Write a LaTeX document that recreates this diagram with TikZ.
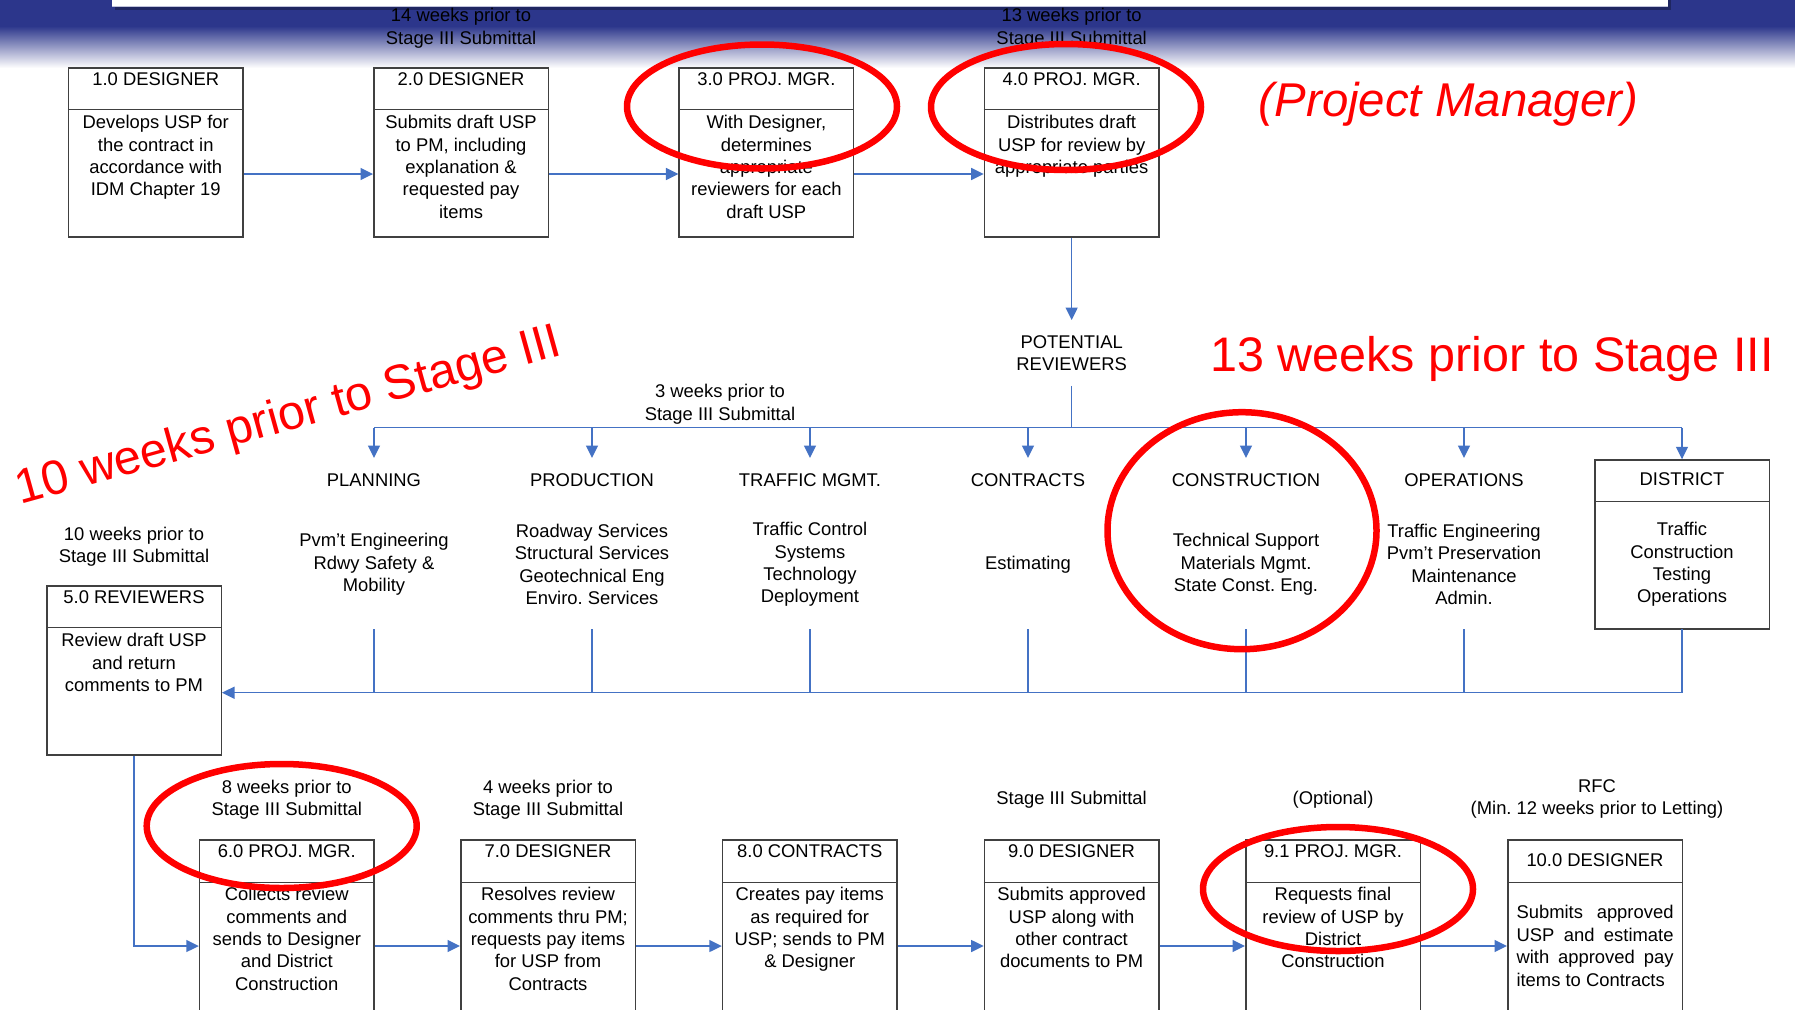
\documentclass[tikz,border=0pt]{standalone}
\usepackage{fontspec}
\setmainfont{Liberation Sans}
\usetikzlibrary{arrows.meta}
\frenchspacing

\definecolor{hdrblue}{RGB}{44,54,139}
\definecolor{flowblue}{RGB}{68,114,196}
\definecolor{boxgray}{RGB}{64,64,64}
\definecolor{ringred}{RGB}{255,0,0}

\begin{document}
\begin{tikzpicture}[x=1pt, y=-1pt,
    txt/.style={font=\fontsize{18.4}{22.4}\selectfont, align=center, inner sep=0pt},
    hd/.style={txt, anchor=north, inner ysep=15.4pt},
    desc/.style={txt, minimum height=129pt},
    box/.style={draw=boxgray, line width=1.5pt, minimum width=174.5pt, inner sep=0pt},
    divide/.style={draw=boxgray, line width=1.5pt},
    link/.style={draw=flowblue, line width=1.5pt},
    flow/.style={link, -{Triangle[length=12.5pt, width=12pt]}},
    ring/.style={draw=ringred, line width=6.5pt},
    note/.style={text=ringred, font=\fontsize{48.5}{58}\selectfont, inner sep=0pt}]

  % slide background and title band
  \useasboundingbox (0,0) rectangle (1795,1009);
  \clip (0,0) rectangle (1795,1009);
  \fill[white] (0,0) rectangle (1795,1009);
  \fill[hdrblue] (0,0) rectangle (1795,26);
  \shade[top color=hdrblue, bottom color=white] (0,26) rectangle (1795,68);
  \fill[hdrblue!70!black] (115,0) rectangle (1671,10);
  \fill[white] (112,0) rectangle (1668,7);
  \draw[hdrblue!30, line width=1pt] (112,6.5) -- (1668,6.5);

  % top row
  \node[box, minimum height=169pt] (b1) at (155.75,152.5) {};
  \node[box, minimum height=169pt] (b2) at (461.05,152.5) {};
  \node[box, minimum height=169pt] (b3) at (766.35,152.5) {};
  \node[box, minimum height=169pt] (b4) at (1071.65,152.5) {};
  \node[txt, anchor=base] (h1) at ([yshift=-18.6pt]b1.north) {1.0 DESIGNER};
  \node[txt, anchor=base] (h2) at ([yshift=-18.6pt]b2.north) {2.0 DESIGNER};
  \node[txt, anchor=base] (h3) at ([yshift=-18.6pt]b3.north) {3.0 PROJ. MGR.};
  \node[txt, anchor=base] (h4) at ([yshift=-18.6pt]b4.north) {4.0 PROJ. MGR.};
  \node[txt, anchor=north] (d1) at ([yshift=-48pt]b1.north) {Develops USP for\\the contract in\\accordance with\\IDM Chapter 19};
  \node[txt, anchor=north] (d2) at ([yshift=-48pt]b2.north) {Submits draft USP\\to PM, including\\explanation \&\\requested pay\\items};
  \node[txt, anchor=north] (d3) at ([yshift=-48pt]b3.north) {With Designer,\\determines\\appropriate\\reviewers for each\\draft USP};
  \node[txt, anchor=north] (d4) at ([yshift=-48pt]b4.north) {Distributes draft\\USP for review by\\appropriate parties};
  \node[txt, anchor=north] (t14) at (461.05,8.2) {14 weeks prior to\\Stage III Submittal};
  \node[txt, anchor=north] (t13) at (1071.65,8.2) {13 weeks prior to\\Stage III Submittal};
  \draw[flow] ([yshift=-21.5pt]b1.east) -- ([yshift=-21.5pt]b2.west);
  \draw[flow] ([yshift=-21.5pt]b2.east) -- ([yshift=-21.5pt]b3.west);
  \draw[flow] ([yshift=-21.5pt]b3.east) -- ([yshift=-21.5pt]b4.west);

  % potential reviewers
  \node[txt, anchor=north, inner ysep=15pt] (pot) at (1071.65,320) {POTENTIAL\\REVIEWERS};
  \coordinate (topbus) at (1071.65,427.7);
  \draw[flow] (b4.south) -- (pot.north);
  \draw[link] (pot.south) -- (topbus);
  \node[txt, anchor=north] (t3) at (720,384.2) {3 weeks prior to\\Stage III Submittal};

  \node[hd] (planh) at (374,458) {PLANNING};
  \node[hd] (prodh) at (592,458) {PRODUCTION};
  \node[hd] (trafh) at (810,458) {TRAFFIC MGMT.};
  \node[hd] (conth) at (1028,458) {CONTRACTS};
  \node[hd] (consh) at (1246,458) {CONSTRUCTION};
  \node[hd] (operh) at (1464,458) {OPERATIONS};
  \node[box, minimum height=169pt] (dist) at (1682,544.5) {};
  \node[txt, anchor=base] (disth) at ([yshift=-26.6pt]dist.north) {DISTRICT};

  \node[desc] (pland) at (374,564.5) {Pvm’t Engineering\\Rdwy Safety \&\\Mobility};
  \node[desc] (prodd) at (592,564.5) {Roadway Services\\Structural Services\\Geotechnical Eng\\Enviro. Services};
  \node[desc] (trafd) at (810,564.5) {Traffic Control\\Systems\\Technology\\Deployment};
  \node[desc] (contd) at (1028,564.5) {Estimating};
  \node[desc] (consd) at (1246,564.5) {Technical Support\\Materials Mgmt.\\State Const. Eng.};
  \node[desc] (operd) at (1464,564.5) {Traffic Engineering\\Pvm’t Preservation\\Maintenance\\Admin.};
  \node[desc] (distd) at (1682,564.5) {Traffic\\Construction\\Testing\\Operations};

  \draw[link] (planh.north |- topbus) -- (dist.north |- topbus);
  \draw[flow] (planh.north |- topbus) -- (planh.north);
  \draw[flow] (prodh.north |- topbus) -- (prodh.north);
  \draw[flow] (trafh.north |- topbus) -- (trafh.north);
  \draw[flow] (conth.north |- topbus) -- (conth.north);
  \draw[flow] (consh.north |- topbus) -- (consh.north);
  \draw[flow] (operh.north |- topbus) -- (operh.north);
  \draw[flow] (dist.north |- topbus) -- (dist.north);

  % reviewers box and return line
  \node[box, minimum height=169pt] (b5) at (134,670.5) {};
  \node[txt, anchor=base] (h5) at ([yshift=-18.6pt]b5.north) {5.0 REVIEWERS};
  \node[txt, anchor=north] (d5) at ([yshift=-48pt]b5.north) {Review draft USP\\and return\\comments to PM};
  \node[txt, anchor=north] (t10) at (134,526.5) {10 weeks prior to\\Stage III Submittal};
  \coordinate (botbus) at ([yshift=-22.2pt]b5.east);
  \draw[flow] (distd.south) |- (botbus);
  \draw[link] (pland.south) -- (pland.south |- botbus);
  \draw[link] (prodd.south) -- (prodd.south |- botbus);
  \draw[link] (trafd.south) -- (trafd.south |- botbus);
  \draw[link] (contd.south) -- (contd.south |- botbus);
  \draw[link] (consd.south) -- (consd.south |- botbus);
  \draw[link] (operd.south) -- (operd.south |- botbus);

  % bottom row
  \node[box, minimum height=212pt] (b6) at (286.8,946) {};
  \node[box, minimum height=212pt] (b7) at (548,946) {};
  \node[box, minimum height=212pt] (b8) at (809.8,946) {};
  \node[box, minimum height=212pt] (b9) at (1071.6,946) {};
  \node[box, minimum height=212pt] (b91) at (1333,946) {};
  \node[box, minimum height=212pt] (b10) at (1595,946) {};
  \node[txt, anchor=base] (h6) at ([yshift=-18.6pt]b6.north) {6.0 PROJ. MGR.};
  \node[txt, anchor=base] (h7) at ([yshift=-18.6pt]b7.north) {7.0 DESIGNER};
  \node[txt, anchor=base] (h8) at ([yshift=-18.6pt]b8.north) {8.0 CONTRACTS};
  \node[txt, anchor=base] (h9) at ([yshift=-18.6pt]b9.north) {9.0 DESIGNER};
  \node[txt, anchor=base] (h91) at ([yshift=-18.6pt]b91.north) {9.1 PROJ. MGR.};
  \node[txt, anchor=base] (h10) at ([yshift=-27.3pt]b10.north) {10.0 DESIGNER};
  \node[txt, anchor=north] (d6) at ([yshift=-48pt]b6.north) {Collects review\\comments and\\sends to Designer\\and District\\Construction};
  \node[txt, anchor=north] (d7) at ([yshift=-48pt]b7.north) {Resolves review\\comments thru PM;\\requests pay items\\for USP from\\Contracts};
  \node[txt, anchor=north] (d8) at ([yshift=-48pt]b8.north) {Creates pay items\\as required for\\USP; sends to PM\\\& Designer};
  \node[txt, anchor=north] (d9) at ([yshift=-48pt]b9.north) {Submits approved\\USP along with\\other contract\\documents to PM};
  \node[txt, anchor=north] (d91) at ([yshift=-48pt]b91.north) {Requests final\\review of USP by\\District\\Construction};
  \node[txt, anchor=north, text width=157pt, align=justify] (d10) at ([yshift=-66.2pt]b10.north)
    {\hyphenpenalty=10000\exhyphenpenalty=10000 Submits approved USP and estimate with approved pay items to Contracts};
  \node[txt, anchor=north] (t8) at (286.8,779.9) {8 weeks prior to\\Stage III Submittal};
  \node[txt, anchor=north] (t4) at (548,779.9) {4 weeks prior to\\Stage III Submittal};
  \node[txt, anchor=north] (tst) at (1071.6,790.9) {Stage III Submittal};
  \node[txt, anchor=base] (topt) at (1333,804.3) {(Optional)};
  \node[txt, anchor=north] (trfc) at (1597,779.1) {RFC\\(Min. 12 weeks prior to Letting)};
  \draw[flow] (b5.south) |- (b6.west);
  \draw[flow] (b6.east) -- (b7.west);
  \draw[flow] (b7.east) -- (b8.west);
  \draw[flow] (b8.east) -- (b9.west);
  \draw[flow] (b9.east) -- (b91.west);
  \draw[flow] (b91.east) -- (b10.west);

  % box dividers
  \foreach \b in {b1,b2,b3,b4,b5,dist}
    \draw[divide] ([yshift=-42pt]\b.north west) -- ([yshift=-42pt]\b.north east);
  \foreach \b in {b6,b7,b8,b9,b91,b10}
    \draw[divide] ([yshift=-43pt]\b.north west) -- ([yshift=-43pt]\b.north east);

  % red notes
  \node[note, font=\fontsize{47.4}{56}\selectfont\itshape, anchor=base] (pmnote) at (1448.5,116.7) {(Project Manager)};
  \node[note, anchor=base] (wk13) at (1492,371.7) {13 weeks prior to Stage III};
  \node[note, anchor=base west, rotate=15.5] (wk10) at (20,505) {10 weeks prior to Stage III};
  \draw[ring] (762,106.5) ellipse [x radius=135pt, y radius=62pt];
  \draw[ring] (1066,107) ellipse [x radius=135pt, y radius=63pt];
  \draw[ring] (1242,530.7) ellipse [x radius=134.5pt, y radius=118.5pt];
  \draw[ring] (281.7,826) ellipse [x radius=135pt, y radius=62pt];
  \draw[ring] (1338,889) ellipse [x radius=135pt, y radius=62pt];

\end{tikzpicture}
\end{document}
